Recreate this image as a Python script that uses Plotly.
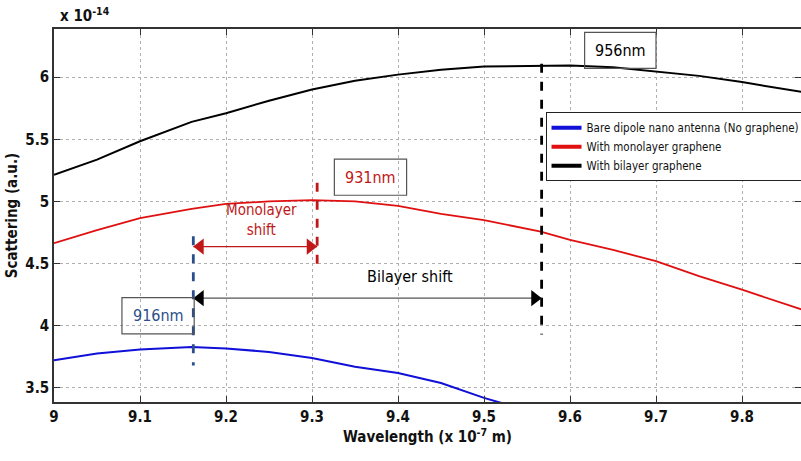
import plotly.graph_objects as go

# ---- data ----
wavelength = [9.00, 9.05, 9.10, 9.16, 9.20, 9.25, 9.30, 9.35, 9.40, 9.45, 9.50,
              9.566, 9.60, 9.65, 9.70, 9.75, 9.80, 9.87]
bilayer = [5.215, 5.336, 5.484, 5.64, 5.71, 5.81, 5.90, 5.97, 6.02, 6.06, 6.085,
           6.094, 6.094, 6.08, 6.045, 6.01, 5.96, 5.88]
monolayer = [4.664, 4.77, 4.866, 4.94, 4.98, 5.00, 5.01, 5.00, 4.965, 4.90, 4.85,
             4.757, 4.69, 4.61, 4.52, 4.40, 4.29, 4.13]
bare_wl = [9.00, 9.05, 9.10, 9.16, 9.20, 9.25, 9.30, 9.35, 9.40, 9.45, 9.50, 9.55]
bare = [3.723, 3.777, 3.81, 3.83, 3.817, 3.79, 3.74, 3.67, 3.62, 3.54, 3.42, 3.32]

series_names = ["Bare dipole nano antenna (No graphene)",
                "With monolayer graphene",
                "With bilayer graphene"]

peak_bare, peak_mono, peak_bi = 9.162, 9.306, 9.567
peak_labels = ["916nm", "931nm", "956nm"]
mono_arrow_y, bi_arrow_y = 4.637, 4.222

x_ticks = [9.0, 9.1, 9.2, 9.3, 9.4, 9.5, 9.6, 9.7, 9.8]
x_tick_text = ["9", "9.1", "9.2", "9.3", "9.4", "9.5", "9.6", "9.7", "9.8"]
y_ticks = [3.5, 4.0, 4.5, 5.0, 5.5, 6.0]
y_tick_text = ["3.5", "4", "4.5", "5", "5.5", "6"]

FONT = "DejaVu Sans Condensed, Liberation Sans Narrow, Arial Narrow, Liberation Sans"
BLUE = "#1010d8"
RED = "#e01010"
BLACK = "#000000"
DRED = "#c01818"
DBLUE = "#2b4f8c"

fig = go.Figure()

# curves
fig.add_trace(go.Scatter(x=bare_wl, y=bare, mode="lines", line=dict(color=BLUE, width=2),
                         showlegend=False, name=series_names[0]))
fig.add_trace(go.Scatter(x=wavelength, y=monolayer, mode="lines", line=dict(color=RED, width=1.8),
                         showlegend=False, name=series_names[1]))
fig.add_trace(go.Scatter(x=wavelength, y=bilayer, mode="lines", line=dict(color=BLACK, width=2),
                         showlegend=False, name=series_names[2]))

# legend entries (thick lines)
for nm, col in zip(series_names, [BLUE, RED, BLACK]):
    fig.add_trace(go.Scatter(x=[None], y=[None], mode="lines", line=dict(color=col, width=4),
                             name=nm, showlegend=True))

# dashed peak markers
fig.add_trace(go.Scatter(x=[peak_bare, peak_bare], y=[4.72, 3.68], mode="lines",
                         line=dict(color=DBLUE, width=2.8, dash="dash"), showlegend=False))
fig.add_trace(go.Scatter(x=[peak_mono, peak_mono], y=[5.15, 4.48], mode="lines",
                         line=dict(color=DRED, width=2.8, dash="dash"), showlegend=False))
fig.add_trace(go.Scatter(x=[peak_bi, peak_bi], y=[6.107, 3.93], mode="lines",
                         line=dict(color=BLACK, width=2.8, dash="dash"), showlegend=False))

# shift arrows: shaft + triangular heads
HEAD = 0.008  # half head length in wavelength units
for (x0, x1, yv, lc, hc) in [(peak_bare, peak_mono, mono_arrow_y, DRED, DRED),
                             (peak_bare, peak_bi, bi_arrow_y, "#555555", BLACK)]:
    fig.add_trace(go.Scatter(x=[x0, x1], y=[yv, yv], mode="lines",
                             line=dict(color=lc, width=1.2), showlegend=False))
    fig.add_trace(go.Scatter(x=[x0 + HEAD, x1 - HEAD], y=[yv, yv], mode="markers",
                             marker=dict(symbol=["triangle-left", "triangle-right"],
                                         size=14, color=hc, line=dict(width=0)),
                             showlegend=False))

annotations = []
annotations.append(dict(x=9.241, y=4.85, xref="x", yref="y", showarrow=False,
                        text="Monolayer<br>shift", font=dict(family=FONT, size=15, color=DRED)))
annotations.append(dict(x=9.414, y=4.40, xref="x", yref="y", showarrow=False,
                        text="Bilayer shift", font=dict(family=FONT, size=16, color=BLACK)))

# peak label boxes
boxes = [
    (9.079, 9.163, 3.935, 4.226, peak_labels[0], DBLUE),
    (9.326, 9.410, 5.05, 5.34, peak_labels[1], DRED),
    (9.617, 9.700, 6.07, 6.36, peak_labels[2], BLACK),
]
shapes = []
for x0, x1, y0, y1, t, c in boxes:
    shapes.append(dict(type="rect", xref="x", yref="y", x0=x0, x1=x1, y0=y0, y1=y1,
                       line=dict(color="#555555", width=1.2), fillcolor="rgba(0,0,0,0)"))
    annotations.append(dict(x=(x0 + x1) / 2, y=(y0 + y1) / 2, xref="x", yref="y",
                            showarrow=False, text=t, font=dict(family=FONT, size=16, color=c)))

# exponent label
annotations.append(dict(x=0.005, y=1.0, xref="paper", yref="paper", xanchor="left",
                        yanchor="bottom", yshift=2, showarrow=False,
                        text="<b>x 10<sup>-14</sup></b>",
                        font=dict(family=FONT, size=15, color="#111111")))

axis_common = dict(showline=True, linecolor="#333333", linewidth=1.5, mirror="allticks",
                   ticks="inside", ticklen=6, tickcolor="#333333", showgrid=True,
                   gridcolor="#b0b0b0", griddash="dot", gridwidth=1, zeroline=False,
                   tickfont=dict(family=FONT, size=15, color="#111111", weight="bold"))

fig.update_layout(
    width=801, height=461,
    margin=dict(l=54, r=0, t=29, b=59, autoexpand=False),
    paper_bgcolor="white", plot_bgcolor="white",
    font=dict(family=FONT, color="#111111"),
    xaxis=dict(range=[9.0, 9.8686], tickvals=x_ticks, ticktext=x_tick_text,
               title=dict(text="<b>Wavelength (x 10<sup>-7</sup> m)</b>",
                          font=dict(family=FONT, size=15), standoff=6),
               **axis_common),
    yaxis=dict(range=[3.387, 6.387], tickvals=y_ticks, ticktext=y_tick_text,
               title=dict(text="<b>Scattering (a.u.)</b>", font=dict(family=FONT, size=15),
                          standoff=4),
               **axis_common),
    legend=dict(x=0.658, y=0.777, xanchor="left", yanchor="top",
                bgcolor="white", bordercolor="#222222", borderwidth=1,
                font=dict(family=FONT, size=11.5, color="#111111"),
                tracegroupgap=0, itemwidth=30),
    shapes=shapes,
    annotations=annotations,
)

fig.write_html("out.html")
